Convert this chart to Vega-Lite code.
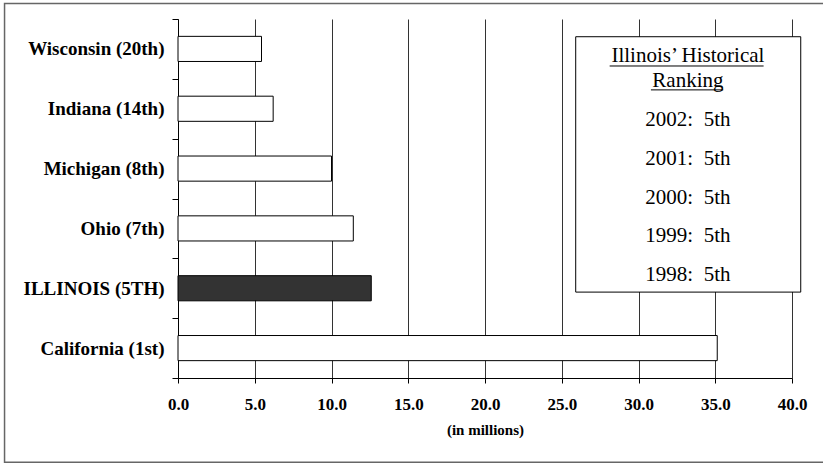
{
  "$schema": "https://vega.github.io/schema/vega-lite/v6.json",
  "width": 614,
  "height": 359,
  "autosize": {"type": "none"},
  "padding": {"left": 178, "top": 19, "right": 31, "bottom": 86},
  "background": "white",
  "config": {
    "view": {"stroke": null},
    "font": "Liberation Serif"
  },
  "datasets": {
    "states": [
      {"state": "Wisconsin (20th)", "pop": 5.44},
      {"state": "Indiana (14th)", "pop": 6.2},
      {"state": "Michigan (8th)", "pop": 10.0},
      {"state": "Ohio (7th)", "pop": 11.42},
      {"state": "ILLINOIS (5TH)", "pop": 12.59},
      {"state": "California (1st)", "pop": 35.13}
    ],
    "ranking": [
      {"year": 2002, "label": "2002:\u00a0\u00a05th"},
      {"year": 2001, "label": "2001:\u00a0\u00a05th"},
      {"year": 2000, "label": "2000:\u00a0\u00a05th"},
      {"year": 1999, "label": "1999:\u00a0\u00a05th"},
      {"year": 1998, "label": "1998:\u00a0\u00a05th"}
    ],
    "one": [{}]
  },
  "resolve": {"scale": {"y": "independent"}, "axis": {"y": "independent"}},
  "layer": [
    {
      "data": {"name": "states"},
      "mark": {"type": "bar", "stroke": "black", "strokeWidth": 1, "height": {"band": 0.42}},
      "encoding": {
        "y": {
          "field": "state",
          "type": "nominal",
          "sort": null,
          "scale": {"paddingInner": 0, "paddingOuter": 0},
          "axis": {
            "title": null,
            "orient": "left",
            "tickBand": "extent",
            "tickSize": 6,
            "tickColor": "black",
            "domainColor": "black",
            "grid": false,
            "labelFont": "Liberation Serif",
            "labelFontWeight": "bold",
            "labelFontSize": 19,
            "labelColor": "black",
            "labelPadding": 8
          }
        },
        "x": {
          "field": "pop",
          "type": "quantitative",
          "scale": {"domain": [0, 40], "nice": false, "zero": true},
          "axis": {
            "values": [0, 5, 10, 15, 20, 25, 30, 35, 40],
            "format": ".1f",
            "grid": true,
            "gridColor": "#333333",
            "gridOpacity": 1,
            "tickSize": 5,
            "tickColor": "black",
            "domainColor": "black",
            "labelFont": "Liberation Serif",
            "labelFontWeight": "bold",
            "labelFontSize": 17,
            "labelColor": "black",
            "labelPadding": 13,
            "labelFlush": false,
            "title": "(in millions)",
            "titleFont": "Liberation Serif",
            "titleFontSize": 15,
            "titleFontWeight": "bold",
            "titleColor": "black",
            "titlePadding": 10
          }
        },
        "fill": {
          "condition": {"test": "datum.state === 'ILLINOIS (5TH)'", "value": "#333333"},
          "value": "white"
        }
      }
    },
    {
      "data": {"name": "one"},
      "layer": [
        {
          "mark": {"type": "rect", "fill": null, "fillOpacity": 0, "stroke": "#666666", "strokeWidth": 1.5, "clip": false},
          "encoding": {
            "x": {"datum": -11.3, "type": "quantitative"},
            "x2": {"datum": 42.6},
            "y": {"datum": 2005.19, "type": "quantitative", "scale": {"domain": [1995.47, 2004.79], "nice": false, "zero": false}, "axis": null},
            "y2": {"datum": 1993.28}
          }
        },
        {
          "mark": {"type": "rect", "fill": "white", "stroke": "black", "strokeWidth": 1, "clip": false},
          "encoding": {
            "x": {"datum": 25.91, "type": "quantitative"},
            "x2": {"datum": 40.57},
            "y": {"datum": 2004.33, "type": "quantitative", "scale": {"domain": [1995.47, 2004.79], "nice": false, "zero": false}, "axis": null},
            "y2": {"datum": 1997.7}
          }
        },
        {
          "mark": {"type": "text", "font": "Liberation Serif", "fontSize": 21, "color": "black", "align": "center", "baseline": "alphabetic"},
          "encoding": {
            "x": {"datum": 33.22, "type": "quantitative"},
            "y": {"datum": 2003.67, "type": "quantitative", "scale": {"domain": [1995.47, 2004.79], "nice": false, "zero": false}, "axis": null},
            "text": {"value": "Illinois\u2019 Historical"}
          }
        },
        {
          "mark": {"type": "text", "font": "Liberation Serif", "fontSize": 21, "color": "black", "align": "center", "baseline": "alphabetic"},
          "encoding": {
            "x": {"datum": 33.22, "type": "quantitative"},
            "y": {"datum": 2003.03, "type": "quantitative", "scale": {"domain": [1995.47, 2004.79], "nice": false, "zero": false}, "axis": null},
            "text": {"value": "Ranking"}
          }
        },
        {
          "mark": {"type": "rule", "color": "black", "strokeWidth": 1, "clip": false},
          "encoding": {
            "x": {"datum": 28.12, "type": "quantitative"},
            "x2": {"datum": 38.15},
            "y": {"datum": 2003.57, "type": "quantitative", "scale": {"domain": [1995.47, 2004.79], "nice": false, "zero": false}, "axis": null}
          }
        },
        {
          "mark": {"type": "rule", "color": "black", "strokeWidth": 1, "clip": false},
          "encoding": {
            "x": {"datum": 30.81, "type": "quantitative"},
            "x2": {"datum": 35.52},
            "y": {"datum": 2002.95, "type": "quantitative", "scale": {"domain": [1995.47, 2004.79], "nice": false, "zero": false}, "axis": null}
          }
        },
        {
          "data": {"name": "ranking"},
          "mark": {"type": "text", "font": "Liberation Serif", "fontSize": 21, "color": "black", "align": "center", "baseline": "alphabetic"},
          "encoding": {
            "x": {"datum": 33.22, "type": "quantitative"},
            "y": {"field": "year", "type": "quantitative", "scale": {"domain": [1995.47, 2004.79], "nice": false, "zero": false}, "axis": null},
            "text": {"field": "label"}
          }
        }
      ]
    }
  ]
}
